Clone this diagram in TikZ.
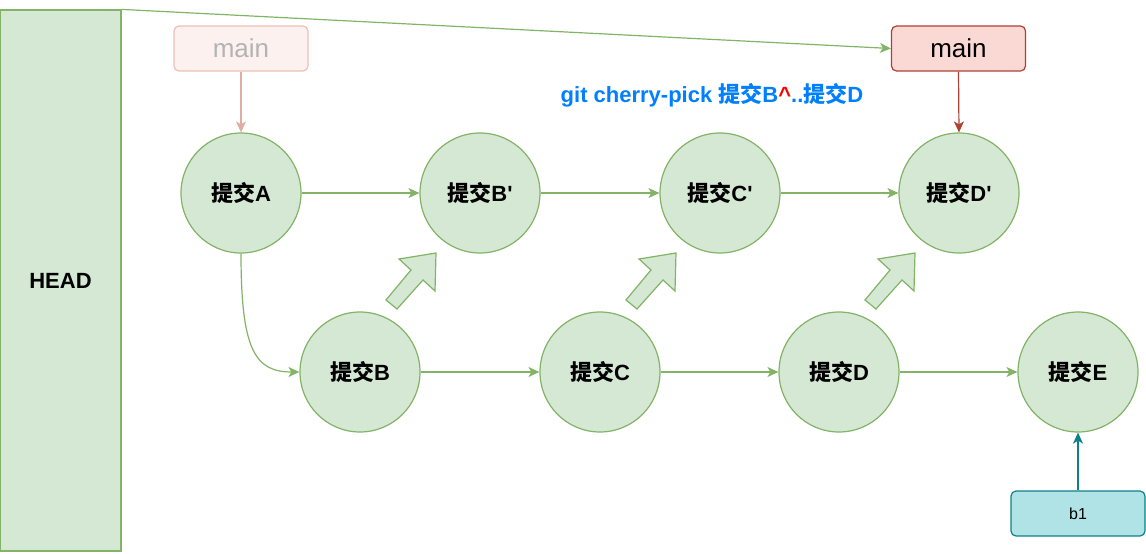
\documentclass[tikz,border=0pt]{standalone}
\usepackage{fontspec}
\setmainfont{Liberation Sans}
\newfontfamily\plainfont{Liberation Sans}
\newfontfamily\cjk{Noto Sans CJK SC}
\usetikzlibrary{arrows.meta}
\newcommand{\tj}{{\cjk\bfseries 提交}}
\newcommand{\apos}{{\plainfont\bfseries '}}
\definecolor{gfill}{HTML}{D5E8D4}
\definecolor{gdraw}{HTML}{82B366}
\definecolor{rfill}{HTML}{FAD9D5}
\definecolor{rdraw}{HTML}{AE4132}
\definecolor{ofill}{HTML}{FDF1F0}
\definecolor{odraw}{HTML}{EBC0BA}
\definecolor{otext}{HTML}{B3B3B3}
\definecolor{oarrow}{HTML}{E0ACA4}
\definecolor{tfill}{HTML}{B0E3E6}
\definecolor{tdraw}{HTML}{0E8088}
\definecolor{cmdblue}{HTML}{007FFF}
\tikzset{
  commit/.style={circle,draw=gdraw,fill=gfill,line width=1.2pt,minimum size=120pt,inner sep=0pt,font=\fontsize{22}{24}\selectfont\bfseries},
  branch/.style={rounded corners=5pt,line width=1.2pt,minimum width=134pt,minimum height=45pt,inner sep=0pt,font=\fontsize{26}{28}\selectfont},
  tip/.style={-{Stealth[length=11pt,width=10pt,inset=3pt]}},
  glink/.style={tip,draw=gdraw,line width=1.2pt},
  bigarrow/.style={draw=gdraw,fill=gfill,line width=1.2pt,line join=miter}
}
\begin{document}
\begin{tikzpicture}[x=1pt,y=-1pt]
\useasboundingbox (0,0) rectangle (1146,554);
% HEAD
\node[draw=gdraw,fill=gfill,line width=1.2pt,minimum width=121pt,minimum height=541pt,inner sep=0pt,font=\fontsize{22}{24}\selectfont\bfseries] (head) at (60.5,280.5) {HEAD};
% branches
\node[branch,draw=odraw,fill=ofill,text=otext] (oldmain) at (241,48.5) {main};
\node[branch,draw=rdraw,fill=rfill] (newmain) at (958.5,48.5) {main};
\node[branch,draw=tdraw,fill=tfill,font=\fontsize{16}{18}\selectfont] (b1) at (1078,513.5) {b1};
% commits
\node[commit] (A) at (241,193) {\tj A};
\node[commit] (Bp) at (480,193) {\tj B\apos};
\node[commit] (Cp) at (720,193) {\tj C\apos};
\node[commit] (Dp) at (959,193) {\tj D\apos};
\node[commit] (B) at (360,372) {\tj B};
\node[commit] (C) at (600,372) {\tj C};
\node[commit] (D) at (839,372) {\tj D};
\node[commit] (E) at (1078,372) {\tj E};
% command label
\node[font=\fontsize{22}{24}\selectfont\bfseries,text=cmdblue] (cmd) at (712,95) {git cherry-pick {\cjk\bfseries 提交}B\textcolor{red}{\string^}..{\cjk\bfseries 提交}D};
% connectors
\draw[glink] (head.north east) -- (newmain.west);
\draw[tip,draw=oarrow,line width=1.2pt] (oldmain.south) -- (A.north);
\draw[tip,draw=rdraw,line width=1.2pt] (newmain.south) -- (Dp.north);
\draw[tip,draw=tdraw,line width=1.4pt] (b1.north) -- (E.south);
\draw[glink] (A.east) -- (Bp.west);
\draw[glink] (Bp.east) -- (Cp.west);
\draw[glink] (Cp.east) -- (Dp.west);
\draw[glink] (B.east) -- (C.west);
\draw[glink] (C.east) -- (D.west);
\draw[glink] (D.east) -- (E.west);
\draw[glink] (A.south) .. controls (241,350) and (255,372) .. (B.west);
% block arrows
\foreach \dx in {0,240,479}{
  \draw[bigarrow,shift={(\dx,0)}] (436,253) -- (399,259) -- (411,270) -- (386,300) -- (397,309) -- (423,280) -- (435,291) -- cycle;
}
\end{tikzpicture}
\end{document}
